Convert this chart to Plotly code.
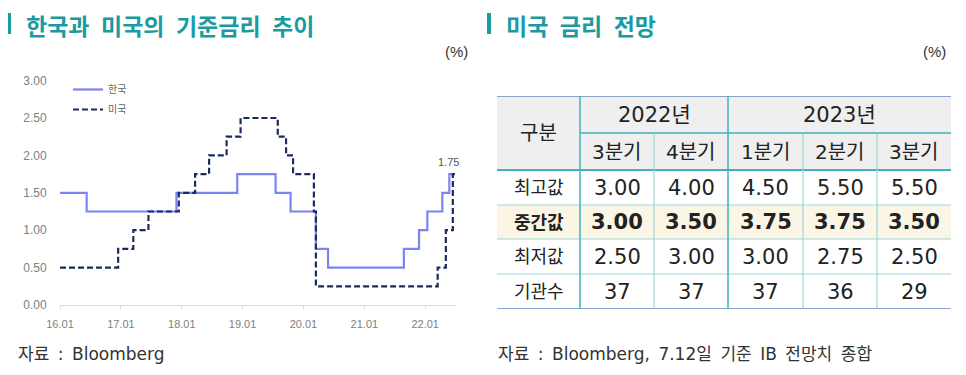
import plotly.graph_objects as go

# ---------------- data ----------------
kr_dates = ["2016-01-01", "2016-06-09", "2017-11-30", "2018-11-30", "2019-07-18", "2019-10-16",
            "2020-03-16", "2020-05-28", "2021-08-26", "2021-11-25", "2022-01-14", "2022-04-14",
            "2022-05-26", "2022-06-20"]
kr_rates = [1.50, 1.25, 1.50, 1.75, 1.50, 1.25, 0.75, 0.50, 0.75, 1.00, 1.25, 1.50, 1.75, 1.75]

us_dates = ["2016-01-01", "2016-12-15", "2017-03-16", "2017-06-15", "2017-12-14", "2018-03-22",
            "2018-06-14", "2018-09-27", "2018-12-20", "2019-07-31", "2019-09-19", "2019-10-31",
            "2020-03-04", "2020-03-16", "2022-03-17", "2022-05-05", "2022-06-16", "2022-07-05"]
us_rates = [0.50, 0.75, 1.00, 1.25, 1.50, 1.75, 2.00, 2.25, 2.50, 2.25, 2.00, 1.75,
            1.25, 0.25, 0.50, 1.00, 1.75, 1.75]

x_tick_dates = ["2016-01-01", "2017-01-01", "2018-01-01", "2019-01-01", "2020-01-01",
                "2021-01-01", "2022-01-01"]
x_tick_text = ["16.01", "17.01", "18.01", "19.01", "20.01", "21.01", "22.01"]
y_tick_vals = [0, 0.5, 1.0, 1.5, 2.0, 2.5, 3.0]

series_names = ["한국", "미국"]

years = ["2022년", "2023년"]
year_spans = [(0, 2), (2, 5)]
quarters = ["3분기", "4분기", "1분기", "2분기", "3분기"]
row_labels = ["최고값", "중간값", "최저값", "기관수"]
high = [3.00, 4.00, 4.50, 5.50, 5.50]
mid = [3.00, 3.50, 3.75, 3.75, 3.50]
low = [2.50, 3.00, 3.00, 2.75, 2.50]
count = [37, 37, 37, 36, 29]

# ---------------- layout helpers ----------------
W, H = 966, 375
OFF = 8  # page body margin offset of the figure in the window
def px(x): return (x - OFF) / W
def py(y): return 1 - (y - OFF) / H

FONT = "Noto Sans CJK KR"
TFONT = "DejaVu Sans, Noto Sans CJK KR"
SFONT = "Liberation Sans, Noto Sans CJK KR"
TEAL = "#1a9ba1"
KR_COLOR = "#7c84f4"
US_COLOR = "#1c2b5e"
TSP = "\u2002"
SP = "\u2002"

fig = go.Figure()

fig.add_trace(go.Scatter(x=kr_dates, y=kr_rates, mode="lines", line_shape="hv",
                         name=series_names[0], legendgroup="a",
                         line=dict(color=KR_COLOR, width=2.2), hoverinfo="skip"))
fig.add_trace(go.Scatter(x=us_dates, y=us_rates, mode="lines", line_shape="hv",
                         name=series_names[1], legendgroup="b",
                         line=dict(color=US_COLOR, width=2.2, dash="6px,3px"), hoverinfo="skip"))

annots = []
shapes = []

# label on last value
annots.append(dict(x=us_dates[-2], y=us_rates[-1], text=f"{us_rates[-1]:.2f}",
                   showarrow=False, yshift=12, xshift=-4, xref="x", yref="y",
                   font=dict(family=SFONT, size=11, color="#555555")))

# titles
for x0, words in [(25, ["한국과", "미국의", "기준금리", "추이"]), (505, ["미국", "금리", "전망"])]:
    annots.append(dict(x=px(x0), y=py(25.5), xref="paper", yref="paper", xanchor="left", yanchor="middle",
                       text="<b>" + TSP.join(words) + "</b>", showarrow=False, borderpad=0,
                       font=dict(family=FONT, size=23, color=TEAL)))
for xb in [7, 487]:
    shapes.append(dict(type="rect", xref="paper", yref="paper", x0=px(xb), x1=px(xb + 4),
                       y0=py(34), y1=py(13), fillcolor=TEAL, line=dict(width=0)))

# (%) units
for xr in [470, 948]:
    annots.append(dict(x=px(xr), y=py(51), xref="paper", yref="paper", xanchor="right", yanchor="middle",
                       text="(%)", showarrow=False, font=dict(family=SFONT, size=15, color="#333333")))

# sources
for x0, words in [(16, ["자료", ":", "Bloomberg"]),
                  (496, ["자료", ":", "Bloomberg,", "7.12일", "기준", "IB", "전망치", "종합"])]:
    annots.append(dict(x=px(x0), y=py(354), xref="paper", yref="paper", xanchor="left", yanchor="middle",
                       text=SP.join(words), showarrow=False,
                       font=dict(family=TFONT, size=17, color="#333333")))

# ---------------- table (on x2 / y2 axes) ----------------
col_w = [83, 74, 74, 75, 74, 74]
row_h = [37, 37, 35, 34, 35, 35]
col_e = [0]
for w in col_w:
    col_e.append(col_e[-1] + w)
row_e = [0]
for h in row_h:
    row_e.append(row_e[-1] + h)
TW, TH = col_e[-1], row_e[-1]

def cx(i): return (col_e[i] + col_e[i + 1]) / 2
def cy(j): return (row_e[j] + row_e[j + 1]) / 2

LINE_TEAL = "#3fb2ba"
LIGHT_TEAL = "#9cd5da"
BORDER = "#8aa5c8"

def tshape(**kw):
    d = dict(xref="x2", yref="y2", layer="below")
    d.update(kw)
    shapes.append(d)

# backgrounds
tshape(type="rect", x0=0, x1=TW, y0=row_e[0], y1=row_e[2], fillcolor="#efefef", line=dict(width=0))
tshape(type="rect", x0=0, x1=TW, y0=row_e[3], y1=row_e[4], fillcolor="#fbf5e5", line=dict(width=0))

# horizontal lines
tshape(type="line", x0=0, x1=TW, y0=row_e[0], y1=row_e[0], line=dict(color=BORDER, width=2))
tshape(type="line", x0=col_e[1], x1=TW, y0=row_e[1], y1=row_e[1], line=dict(color=LINE_TEAL, width=1.5))
tshape(type="line", x0=0, x1=TW, y0=row_e[2], y1=row_e[2], line=dict(color=LINE_TEAL, width=2))
for j in [3, 4, 5]:
    tshape(type="line", x0=0, x1=TW, y0=row_e[j], y1=row_e[j], line=dict(color=LIGHT_TEAL, width=1))
tshape(type="line", x0=0, x1=TW, y0=row_e[6], y1=row_e[6], line=dict(color=BORDER, width=2))

# vertical lines
for i in [1, 3]:
    tshape(type="line", x0=col_e[i], x1=col_e[i], y0=0, y1=TH, line=dict(color=LINE_TEAL, width=1.5))
for i in [2, 4, 5]:
    tshape(type="line", x0=col_e[i], x1=col_e[i], y0=row_e[1], y1=TH, line=dict(color=LIGHT_TEAL, width=1.2))

def tcell(x, y, text, size=20, bold=False):
    annots.append(dict(x=x, y=y, xref="x2", yref="y2", xanchor="center", yanchor="middle",
                       text=f"<b>{text}</b>" if bold else text, showarrow=False,
                       font=dict(family=TFONT, size=size, color="#222222")))

tcell(cx(0), row_e[2] / 2, "구분", size=20)
for k, (a, b) in enumerate(year_spans):
    tcell((col_e[a + 1] + col_e[b + 1]) / 2, cy(0), years[k], size=21)
for k, q in enumerate(quarters):
    tcell(cx(k + 1), cy(1), q, size=20)

body = [[f"{v:.2f}" for v in high], [f"{v:.2f}" for v in mid],
        [f"{v:.2f}" for v in low], [str(v) for v in count]]
for r, lab in enumerate(row_labels):
    bold = (r == 1)
    tcell(cx(0), cy(r + 2), lab, size=18, bold=bold)
    for k, val in enumerate(body[r]):
        tcell(cx(k + 1), cy(r + 2), val, size=21, bold=bold)

fig.update_layout(
    width=W, height=H,
    margin=dict(l=0, r=0, t=0, b=0, pad=0, autoexpand=False),
    paper_bgcolor="white", plot_bgcolor="rgba(0,0,0,0)",
    font=dict(family=FONT),
    showlegend=True,
    legend=dict(x=px(68), y=py(75), xanchor="left", yanchor="top",
                bgcolor="rgba(0,0,0,0)", font=dict(family=FONT, size=10, color="#666666"),
                tracegroupgap=1, itemwidth=30),
    xaxis=dict(domain=[px(60), px(456)], type="date", range=["2016-01-01", "2022-07-05"],
               tickvals=x_tick_dates, ticktext=x_tick_text, showgrid=False, zeroline=False,
               showline=True, linecolor="#d9d9d9", linewidth=1, ticks="outside", ticklen=3,
               tickcolor="#d9d9d9", ticklabelstandoff=6,
               tickfont=dict(family=SFONT, size=11, color="#808080"),
               anchor="y", automargin=False),
    yaxis=dict(domain=[py(305), py(80.6)], range=[0, 3], tickvals=y_tick_vals,
               ticktext=[f"{v:.2f}" for v in y_tick_vals], showgrid=False, zeroline=False,
               showline=False, ticks="outside", ticklen=10, tickcolor="rgba(0,0,0,0)",
               tickfont=dict(family=SFONT, size=12, color="#808080"), anchor="x", automargin=False),
    xaxis2=dict(domain=[px(497), px(951)], range=[0, TW], visible=False, anchor="y2", fixedrange=True),
    yaxis2=dict(domain=[py(309), py(96)], range=[TH, 0], visible=False, anchor="x2", fixedrange=True),
    annotations=annots,
    shapes=shapes,
)

fig.write_html("out.html")
